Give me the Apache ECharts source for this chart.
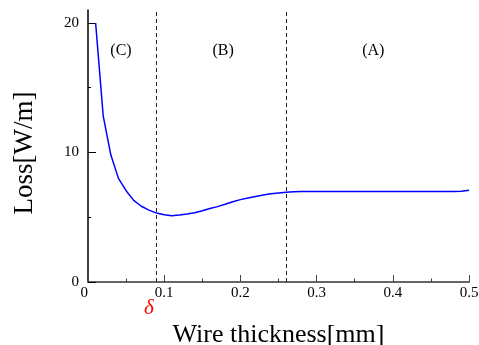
<!DOCTYPE html>
<html>
<head>
<meta charset="utf-8">
<script src="https://cdn.jsdelivr.net/npm/echarts@6/dist/echarts.min.js"></script>
<style>
  html, body { margin: 0; padding: 0; background: #fff; }
  #chart { width: 479px; height: 345px; }
</style>
</head>
<body>
<div id="chart"></div>
<script>
// wire thickness [mm] and loss [W/m]
const thickness = [0.01, 0.02, 0.03, 0.04, 0.05, 0.06, 0.07, 0.08, 0.09, 0.10,
  0.11, 0.12, 0.13, 0.14, 0.15, 0.16, 0.17, 0.18, 0.19, 0.20,
  0.21, 0.22, 0.23, 0.24, 0.25, 0.26, 0.27, 0.28, 0.30, 0.35,
  0.40, 0.45, 0.48, 0.49, 0.50];
const loss = [20.0, 12.8, 9.8, 8.0, 7.05, 6.3, 5.85, 5.55, 5.32, 5.2,
  5.12, 5.17, 5.25, 5.35, 5.5, 5.68, 5.82, 6.0, 6.2, 6.36,
  6.48, 6.6, 6.72, 6.82, 6.88, 6.92, 6.96, 6.98, 6.98, 6.98,
  6.98, 6.98, 6.98, 7.0, 7.08];

// region boundaries (dashed lines)
const boundaries = [0.093, 0.258];

// region labels
const regionNames = ['(C)', '(B)', '(A)'];
const regionX = [0.044, 0.178, 0.375];
const regionY = [17.8, 17.8, 17.8];

const yTicks = [0, 10, 20];
const yMinorTicks = [5, 15];

const FONT = 'Liberation Serif';

const chart = echarts.init(document.getElementById('chart'));

const option = {
  animation: false,
  backgroundColor: '#fff',
  grid: { left: 88, right: 10, top: 10, bottom: 63, outerBoundsMode: 'none', containLabel: false },
  xAxis: {
    type: 'value',
    min: 0,
    max: 0.5,
    interval: 0.1,
    name: 'Wire thickness[mm]',
    nameLocation: 'middle',
    nameGap: 40,
    nameTextStyle: { fontFamily: FONT, fontSize: 26, color: '#000' },
    axisLine: { show: true, lineStyle: { color: '#666', width: 2 } },
    axisTick: { show: true, inside: true, length: 7, lineStyle: { color: '#444', width: 1 } },
    minorTick: { show: true, splitNumber: 2, length: 3.5, lineStyle: { color: '#444', width: 1 } },
    axisLabel: {
      fontFamily: FONT, fontSize: 15, color: '#000', margin: 4,
      formatter: v => String(+v.toFixed(1)),
      alignMinLabel: 'right'
    },
    splitLine: { show: false },
    minorSplitLine: { show: false }
  },
  yAxis: [
    {
      type: 'value',
      min: 0,
      max: 21,
      interval: 10,
      name: 'Loss[W/m]',
      nameLocation: 'middle',
      nameGap: 50,
      nameTextStyle: { fontFamily: FONT, fontSize: 27, color: '#000', padding: [0, 14, 0, 0] },
      axisLine: { show: true, lineStyle: { color: '#000', width: 1.5 } },
      axisTick: { show: true, inside: true, length: 8, customValues: yTicks, lineStyle: { color: '#000', width: 1 } },
      axisLabel: { fontFamily: FONT, fontSize: 15, color: '#000', margin: 9, customValues: yTicks },
      splitLine: { show: false }
    },
    {
      type: 'value',
      min: 0,
      max: 21,
      position: 'left',
      axisLine: { show: false },
      axisTick: { show: true, inside: true, length: 3, customValues: yMinorTicks, lineStyle: { color: '#000', width: 1 } },
      axisLabel: { show: false },
      splitLine: { show: false }
    }
  ],
  series: [
    {
      name: 'Loss',
      type: 'line',
      data: thickness.map((x, i) => [x, loss[i]]),
      showSymbol: false,
      smooth: false,
      lineStyle: { color: '#0000ff', width: 1.5 },
      markLine: {
        silent: true,
        symbol: ['none', 'none'],
        label: { show: false },
        lineStyle: { color: '#222', width: 1, type: [4, 3] },
        data: boundaries.map(b => ({ xAxis: b }))
      },
      z: 3
    },
    {
      name: 'regions',
      type: 'scatter',
      symbolSize: 1,
      itemStyle: { opacity: 0 },
      data: regionNames.map((n, i) => ({ name: n, value: [regionX[i], regionY[i]] })),
      label: {
        show: true,
        position: [0, 0],
        align: 'center',
        verticalAlign: 'middle',
        formatter: p => p.name,
        fontFamily: FONT,
        fontSize: 16,
        color: '#000',
        opacity: 1
      },
      silent: true
    }
  ],
  graphic: [
    {
      type: 'text',
      left: 144,
      top: 298,
      style: {
        text: 'δ',
        font: 'italic 21px "Liberation Serif"',
        fill: '#ff0000'
      }
    }
  ]
};

chart.setOption(option);
</script>
</body>
</html>
